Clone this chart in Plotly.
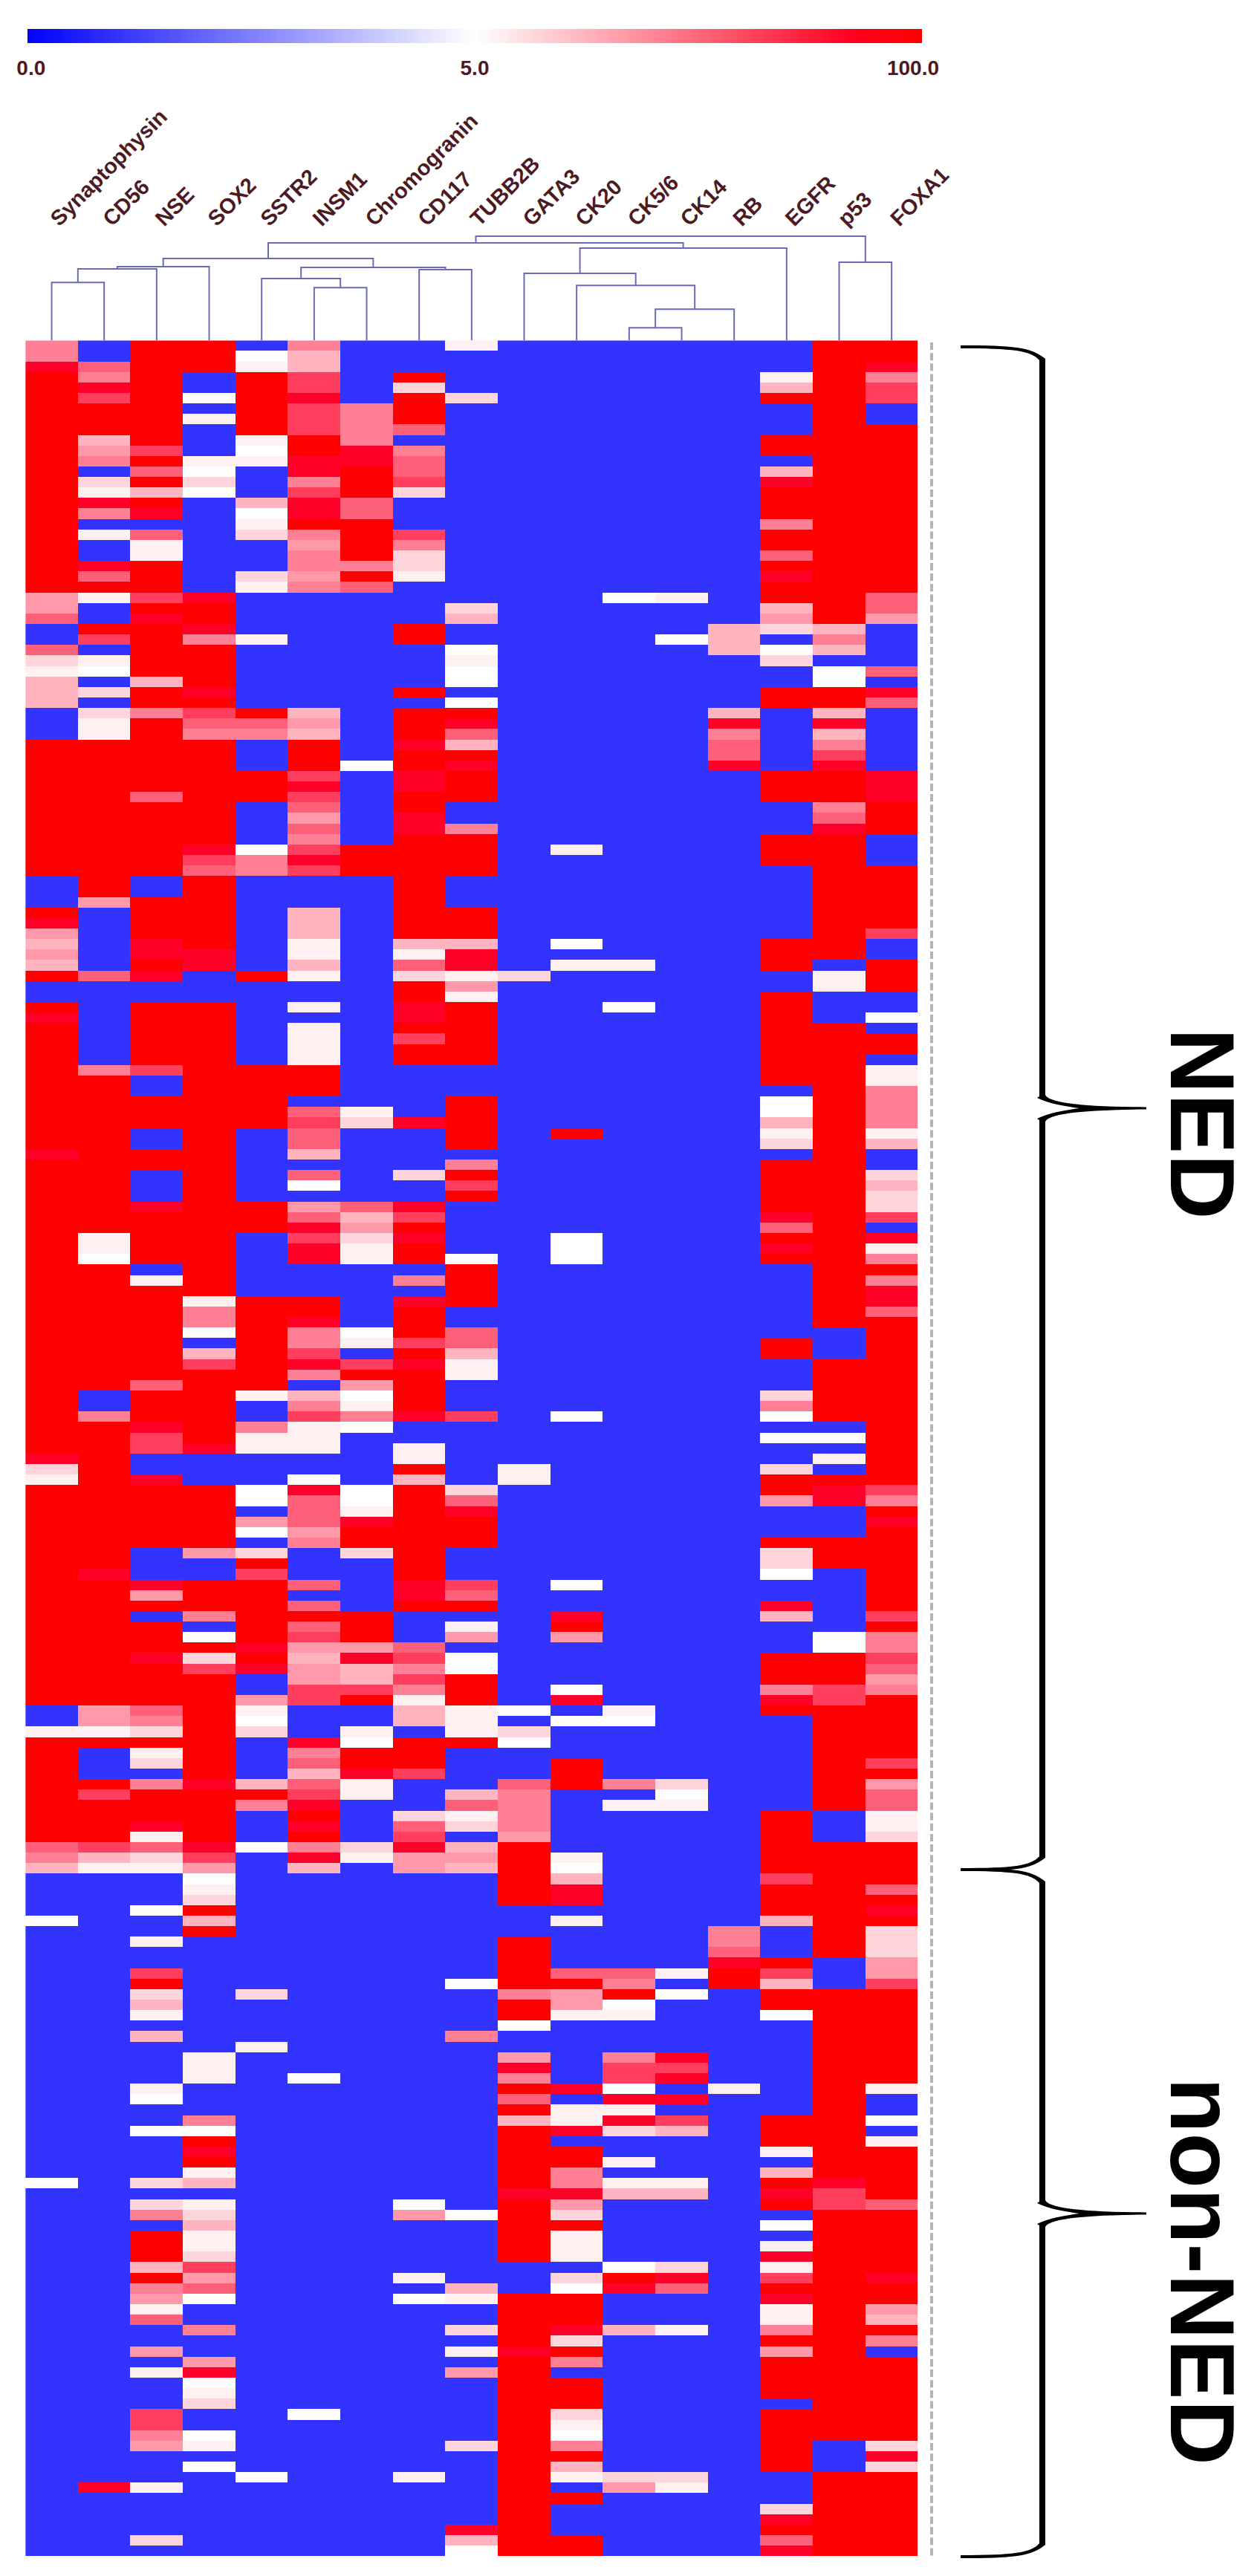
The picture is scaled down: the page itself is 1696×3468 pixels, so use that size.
import numpy as np
import plotly.graph_objects as go

W, H = 1696, 3468
PAGE_MARGIN = 8  # the browser's default body margin

# heatmap levels, one code per colour step
LEVELS = {"b": 1, "w": 5, "1": 10, "2": 19, "3": 30, "4": 39, "5": 47.5,
          "6": 58, "7": 69, "8": 90, "r": 100}

markers = ["Synaptophysin", "CD56", "NSE", "SOX2", "SSTR2", "INSM1", "Chromogranin", "CD117", "TUBB2B",
           "GATA3", "CK20", "CK5/6", "CK14", "RB", "EGFR", "p53", "FOXA1"]

# columns, top row first: "5x2" means two rows at code 5
synaptophysin = ("5x2 8 rx21 4x2 6 bx2 6 2 1 3x3 b "
                 "bx2 rx13 bx3 r 8 4 3 4 3 r bx2 r 8 rx7 "
                 "rx5 8 rx28 8 2 "
                 "1 rx21 bx2 1 rx10 6 "
                 "5 3 bx4 w bx24 w bx3 "
                 "bx32")
cd56 = ("bx2 6 5 8 7 rx3 3 4 5 b 2 1 8 5 b 1 bx2 8 6 r 1 bx2 r 7 b 1 w b 2 b 2 "
        "1x2 rx15 4 bx6 6 bx8 5 rx2 "
        "rx13 1x2 w rx12 bx2 5 rx5 "
        "rx9 8 rx12 4x2 1 r bx3 r 7 rx4 7 "
        "3 1 bx33 "
        "bx25 8 bx6")
nse = ("rx10 7 r 6 r 3 r 8 b 6 1x2 rx3 7 r 8 rx5 3 rx2 5 "
       "rx7 6 rx7 bx2 rx4 8x2 r 8 bx2 rx6 7 bx2 "
       "rx3 bx2 rx2 bx3 8 rx5 b 1 rx9 6 rx3 8 7x2 bx2 "
       "8 rx6 bx3 8 4 r b rx3 8 rx4 6 5 2 r 1 2 b 5 rx3 8 1 6 "
       "2 1 bx3 w bx2 1 bx2 7 r 2 3 1 b 3 bx4 1 w bx2 w bx4 2 b 2 5 "
       "b rx3 3 r 5 4 1 6 bx2 4 b 1 bx3 7x2 5 4 bx3 1 bx4 2 b")
sox2 = ("rx3 bx2 w b 1 bx3 1 w 2 w bx9 8 rx2 8 5 rx4 8 r 7 "
        "6 5 rx10 8 7 6 rx7 8x2 bx3 rx9 "
        "rx19 1 5x2 w b 3 7 rx7 8 bx2 "
        "b rx6 4 bx2 rx3 5 b w r 2 7 rx10 8 rx5 8 "
        "7 4 w 1 2 r 3 r bx11 1x3 bx3 5 w r 8 r 1 3 b 1 2 "
        "3 1x2 2 7 4 6 w bx2 5 bx2 4 8 w 1 2 bx2 w 1 b w bx8")
sstr2 = ("b w 1 rx6 1 w 1 bx3 3 w 1 2 bx3 2 1 bx4 1 bx6 r "
         "6 5 bx3 rx3 bx4 w 5x2 bx9 r bx8 rx3 "
         "rx3 bx7 rx3 bx6 rx9 1 bx2 5 1x2 bx2 "
         "b wx2 b 4 w b 2 r 7 rx6 8 r 8 bx2 4 1 w 2 bx4 3 r 5 bx3 w "
         "bx13 2 bx4 1 bx16 "
         "bx24 w bx7")
insm1 = ("5 3x2 7x2 8 7x3 rx2 8x2 5 7 8x2 r 5 4 5x2 4 5 bx11 3 "
         "4 3 rx3 7 8 7 6 4 6 5 7 8 7 bx3 3x3 1x2 3 1 bx2 1 b 1x4 rx3 "
         "b 6 7 6x2 3 b 6 w b 4 6 8 7 8x2 bx3 rx2 8 5x2 7 8 5 b 3 5 7 1x3 bx2 "
         "w 8 6x3 4 5 bx3 6 b 6 r 6 7 4 3 4x2 7x2 bx3 8 5 6 3 6 7 8 r 8 r 5 "
         "8 3 bx19 w bx13 "
         "bx18 w bx13")
chromogranin = ("bx6 5x4 8x2 rx3 6x2 rx4 5 r 6 bx12 "
                "bx4 w bx7 rx3 bx21 "
                "b 1 2 bx7 6 3 4 2 1x2 bx6 w 1 b 7 r 4 w 1 5 w bx4 "
                "b wx2 1 8 rx2 2 bx5 rx3 4 8 3x2 7 r bx2 1 w rx2 8 1x2 bx4 2 "
                "1 bx34 "
                "bx32")
cd117 = ("bx3 r 2 rx3 6 b 5 6x2 7 2 bx3 7 5 2x2 1 bx4 rx2 bx4 r b r "
         "rx2 8 rx2 8x2 rx2 8x2 rx10 3 1 6 2 rx2 8x2 r 7 rx2 bx3 "
         "bx2 8 bx4 2 bx2 8 7 r 8 rx2 b 5 b 8 rx3 7 r 8 rx4 8 bx2 1x2 r "
         "3 rx9 8x2 r bx3 6 7 5 7 5 1 3x2 b rx3 7 bx3 2 6 7 8 "
         "4x2 bx31 w 4 "
         "bx5 1 b w bx16 1 bx7")
tubb2b = ("1 bx4 2 bx19 2 3 bx2 w 1 wx2 b w r "
          "8 6 3 r 8 rx3 bx2 5 rx4 bx3 rx3 3 8x2 1 4 1 rx6 bx3 "
          "rx5 b 5 r 7 r bx5 w rx4 bx2 6x2 3 1x2 bx3 7 bx5 "
          "b 2 6 8 rx3 bx3 7 6 r b 1 4 b wx2 rx3 1x3 r bx4 3 6 1 2 b 3 "
          "4 3 bx10 w bx4 5 bx16 w "
          "bx6 3 1 bx2 2 b 1 b 4 bx6 2 bx7 8 3 w")
gata3 = ("bx36 "
         "bx24 2 bx11 "
         "bx35 1 "
         "1 bx21 w b 2 w bx3 6 5x4 4 r "
         "rx5 bx3 rx5 5 rx2 w bx2 4 8 5 r 6 r 3 rx6 8 rx2 "
         "rx4 bx3 rx5 8 rx19")
ck20 = ("bx36 "
        "bx12 1 bx8 w b 1 bx12 "
        "bx3 r bx9 wx3 bx14 w bx5 "
        "bx10 w bx2 8 r 4 bx4 w 8 b w bx3 rx3 bx6 "
        "1 w 3 8x2 b 1 bx4 6 r 4x2 1 bx6 8 b 1x2 8 b rx2 5x2 8 4 2 "
        "r 1x3 b 2 w rx3 8 2 r 5 b rx3 2 1 w 5 r 3 1 b r bx3 rx2")
ck56 = ("bx24 w bx11 "
        "bx23 1 bx3 w bx8 "
        "bx36 "
        "bx22 1 w bx5 5 b 1 bx4 "
        "bx11 6 5 r w 1 bx3 5 7x2 w 8 1 8 2 bx2 1 b 1 3 bx2 "
        "bx4 w r 8 bx3 3 bx13 2 4 bx6")
ck14 = ("bx24 1 bx3 w bx7 "
        "bx36 "
        "bx36 "
        "bx29 2 w 1 bx4 "
        "bx11 1 b w bx5 8 7 8 b 8 b 7 3 bx4 1 3 bx2 "
        "bx4 2 8 6 bx3 1 bx13 2 1 bx6")
rb = ("bx27 3x3 bx5 3 "
      "8 5 6x2 8 bx31 "
      "bx36 "
      "bx36 "
      "bx7 5x2 6 8 rx2 bx9 1 bx12 "
      "bx32")
egfr = ("bx3 1 3 r bx3 rx2 b 3 8 rx3 5 rx2 6 r 8 rx2 3 4 2 b w 2 bx2 rx2 b "
        "bx5 rx3 bx3 rx3 bx7 rx3 bx2 rx9 b "
        "wx2 3 1 2 b rx5 8 6 r 8 r bx7 rx2 bx3 2 5 w b w bx2 2 "
        "rx2 4 bx3 r 2x2 w bx2 8 3 bx3 rx3 5 8 r bx9 rx4 "
        "rx2 7 rx3 3 bx3 r 7 3 rx2 w bx9 rx3 1 b 3 r 8 r b "
        "w b 1 8 1 7 r 8 1x2 5 r 4 rx4 b rx6 bx3 2 8 r 6 8")
p53 = ("rx27 3 5 3 b wx2 rx2 3 "
       "8 3 5 7 8 rx3 5 6 8 rx12 b 1x2 bx3 rx7 "
       "rx22 bx3 rx6 b w b 1 b "
       "r 8x2 bx3 rx3 bx6 wx2 rx3 7x2 rx10 bx3 r "
       "rx10 bx3 rx18 8 7x2 r "
       "rx21 bx3 rx8")
foxa1 = ("rx2 8 5 7x2 bx2 rx16 6x2 4 bx4 6 b 8 6 b "
         "bx5 8x3 rx3 bx3 rx6 7 bx2 rx3 bx2 w b rx2 b 1x2 5 "
         "5x3 1 3 bx2 2 3 2x2 7 b 8 1 5 r 5 8x2 6 rx15 "
         "r 7 5 r 8 rx8 7 r 5x2 7 6 4 5 rx6 7 r 4 6x2 1x2 2 r "
         "rx3 6 r 8 r 2x3 4x2 7 rx9 1 bx2 w b 1 rx5 6 r "
         "rx5 8 rx2 4 3 r 5 b rx8 2 8 2 rx8")

columns = [synaptophysin, cd56, nse, sox2, sstr2, insm1, chromogranin, cd117, tubb2b,
           gata3, ck20, ck56, ck14, rb, egfr, p53, foxa1]

# dendrogram joins: left pos, right pos, left height, right height, join height
dendro_left = [0, 0.5, 1.25, 5, 4, 7, 4.75, 2.125, 11, 11.5, 10, 9, 10.0625, 4.125, 15, 8.08]
dendro_right = [1, 2, 3, 6, 5.5, 8, 7.5, 6.125, 12, 13, 12.25, 11.125, 14, 12.03, 16, 15.5]
dendro_low_left = [0, 78, 96, 0, 0, 0, 83, 99, 0, 17, 0, 0, 90, 110, 0, 131]
dendro_low_right = [0, 0, 0, 0, 71, 0, 95, 98, 0, 0, 42, 74, 0, 124, 0, 105]
dendro_top = [78, 96, 99, 71, 83, 95, 98, 110, 17, 42, 74, 90, 124, 131, 105, 140]


def expand(text):
    out = []
    for tok in text.split():
        code, _, n = tok.partition("x")
        out += [LEVELS[code]] * int(n or 1)
    return out


def px(x):
    return (x - PAGE_MARGIN) / W


def py(y):
    return 1 - (y - PAGE_MARGIN) / H


def brace(xl, xs, xt, y0, ym, y1):
    # curly bracket opening left, as a filled outline in page pixels
    pts = [
        ("M", [(xl, y0 - 2)]),
        ("C", [(xl + 70, y0 - 2), (xs - 15, y0), (xs + 4, y0 + 16)]),
        ("L", [(xs + 4, ym - 18)]),
        ("C", [(xs + 8, ym - 8), (xs + 50, ym - 2), (xt, ym - 1.5)]),
        ("L", [(xt, ym + 1.5)]),
        ("C", [(xs + 50, ym + 2), (xs + 8, ym + 8), (xs + 4, ym + 18)]),
        ("L", [(xs + 4, y1 - 16)]),
        ("C", [(xs - 15, y1), (xl + 70, y1 + 2), (xl, y1 + 2)]),
        ("L", [(xl, y1 - 2)]),
        ("C", [(xl + 70, y1 - 2), (xs - 15, y1 - 5), (xs - 4, y1 - 18)]),
        ("L", [(xs - 4, ym + 16)]),
        ("L", [(xs - 7, ym + 14)]),
        ("C", [(xs + 8, ym + 6), (xs + 35, ym + 2), (xs + 50, ym)]),
        ("C", [(xs + 35, ym - 2), (xs + 8, ym - 6), (xs - 7, ym - 14)]),
        ("L", [(xs - 4, ym - 16)]),
        ("L", [(xs - 4, y0 + 18)]),
        ("C", [(xs - 15, y0 + 5), (xl + 70, y0 + 2), (xl, y0 + 2)]),
    ]
    path = ""
    for cmd, coords in pts:
        path += cmd + " ".join(f"{px(x):.5f},{py(y):.5f}" for x, y in coords) + " "
    return dict(type="path", xref="paper", yref="paper", path=path + "Z",
                fillcolor="#000000", line=dict(width=0))


z = np.array([expand(c) for c in columns]).T
assert z.shape == (211, 17)

dx, dy = [], []
for a, b, la, lb, t in zip(dendro_left, dendro_right, dendro_low_left, dendro_low_right, dendro_top):
    dx += [a, a, b, b, None]
    dy += [la, t, t, lb, None]

text_color = "#4d1a22"
left, right = 34.2, 1235.5
top, bottom = 458.3, 3441

fig = go.Figure()
fig.add_trace(go.Heatmap(
    z=z, x=list(range(17)), y=list(range(211)), zmin=0, zmax=100, showscale=False,
    colorscale=[[0, "#0000ff"], [0.05, "#ffffff"], [0.9, "#ff0028"], [1, "#ff0000"]],
    xaxis="x", yaxis="y",
))
fig.add_trace(go.Scatter(x=dx, y=dy, mode="lines", line=dict(color="#6a6ab8", width=2),
                         xaxis="x2", yaxis="y2", showlegend=False, hoverinfo="skip"))
ramp = np.linspace(0, 1, 256)
fig.add_trace(go.Heatmap(
    z=[ramp], x=ramp, y=[0], zmin=0, zmax=1, showscale=False,
    colorscale=[[0, "#0000ff"], [0.5, "#ffffff"], [0.92, "#ff0020"], [1, "#ff0000"]],
    xaxis="x3", yaxis="y3",
))

fig.update_layout(
    width=W, height=H, margin=dict(l=0, r=0, t=0, b=0, autoexpand=False),
    paper_bgcolor="white", plot_bgcolor="white",
    font=dict(family="Liberation Sans", color=text_color),
    xaxis=dict(domain=[px(left), px(right)], range=[-0.5, 16.5], visible=False, automargin=False),
    yaxis=dict(domain=[py(bottom), py(top)], range=[210.5, -0.5], visible=False, automargin=False),
    xaxis2=dict(domain=[px(left), px(right)], range=[-0.5, 16.5], side="top", anchor="y2", automargin=False,
                tickmode="array", tickvals=list(range(17)), ticktext=[f"<b>{m}</b>" for m in markers],
                tickangle=-45, ticklen=0, showline=False, showgrid=False, zeroline=False,
                tickfont=dict(size=29, color=text_color)),
    yaxis2=dict(domain=[py(top), py(317)], range=[0, 141], visible=False, anchor="x2", automargin=False),
    xaxis3=dict(domain=[px(37), px(1241)], range=[0, 1], anchor="y3", side="bottom", automargin=False,
                tickmode="array", tickvals=[0.004, 0.5, 0.99], ticktext=["<b>0.0</b>", "<b>5.0</b>", "<b>100.0</b>"],
                ticks="outside", ticklen=8, tickcolor="rgba(0,0,0,0)", showline=False, showgrid=False,
                zeroline=False, tickfont=dict(size=28, color=text_color)),
    yaxis3=dict(domain=[py(58), py(39)], visible=False, anchor="x3", automargin=False),
    shapes=[
        brace(1293, 1403, 1543, 467, 1492, 2517),
        brace(1293, 1403, 1543, 2517, 2980, 3442),
        dict(type="line", xref="paper", yref="paper", x0=px(1254), x1=px(1254), y0=py(461), y1=py(3441),
             line=dict(color="#b4b4b4", width=4, dash="10px,4.14px")),
    ],
    annotations=[
        dict(text="<b>NED</b>", xref="paper", yref="paper", x=px(1618), y=py(1513), showarrow=False,
             textangle=90, xanchor="center", yanchor="middle", font=dict(size=122, color="#000000")),
        dict(text="<b>non-NED</b>", xref="paper", yref="paper", x=px(1618), y=py(3058), showarrow=False,
             textangle=90, xanchor="center", yanchor="middle", font=dict(size=122, color="#000000")),
    ],
)

fig.write_html("out.html")
